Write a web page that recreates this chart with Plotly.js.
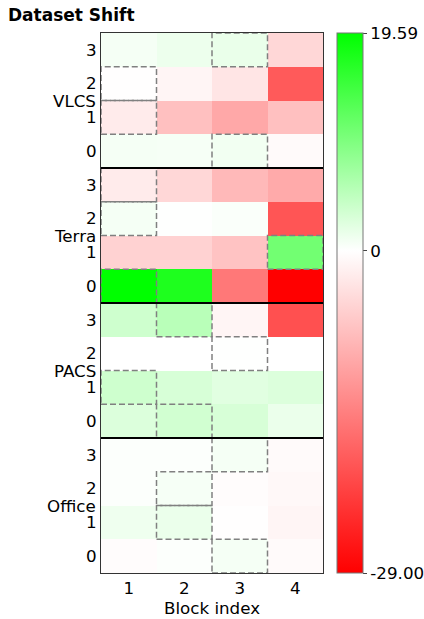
<!DOCTYPE html>
<html>
<head>
<meta charset="utf-8">
<script src="https://cdn.plot.ly/plotly-3.0.1.min.js"></script>
<style>html,body{margin:0;padding:0;background:#fff;}#chart{width:424px;height:619px;}</style>
</head>
<body>
<div id="chart"></div>
<script>
// Datasets, top to bottom
const datasets = ["VLCS", "Terra", "PACS", "Office"];
const blocks = [1, 2, 3, 4];
const subRows = ["0", "1", "2", "3"];
// each dataset: rows = sub-row 0..3, columns = block 1..4
const vlcs = [
  [0.8, 0.7, 1.0, -0.6],
  [-2.3, -7.2, -9.9, -7.2],
  [-0.1, -1.1, -3.0, -18.8],
  [0.8, 1.4, 1.6, -4.6]
];
const terra = [
  [19.59, 17.3, -15.4, -29.0],
  [-5.1, -5.1, -6.8, 10.8],
  [0.8, 0.1, 0.4, -19.3],
  [-2.3, -4.5, -8.0, -9.7]
];
const pacs = [
  [2.7, 3.5, 3.1, 1.5],
  [3.8, 3.1, 2.3, 2.7],
  [0.0, 0.0, 0.1, -0.05],
  [3.8, 5.4, -1.1, -19.9]
];
const office = [
  [-0.3, 0.2, 0.8, -0.6],
  [1.2, 1.5, -0.1, -1.1],
  [0.2, 0.7, -0.3, -0.8],
  [0.2, 0.2, 0.8, -0.6]
];
const zMin = -29.0;
const zMax = 19.59;

// stack bottom (Office 0) to top (VLCS 3)
const groups = [office, pacs, terra, vlcs];
const z = [];
const yVals = [];
const yText = [];
groups.forEach((g, gi) => {
  g.forEach((row, ri) => {
    z.push(row);
    yVals.push(gi * 4 + ri);
    yText.push(subRows[ri]);
  });
});

const zeroPos = (0 - zMin) / (zMax - zMin);
const heat = {
  type: "heatmap",
  x: blocks,
  y: yVals,
  z: z,
  zmin: zMin,
  zmax: zMax,
  colorscale: [[0, "rgb(255,0,0)"], [zeroPos, "rgb(255,255,255)"], [1, "rgb(0,255,0)"]],
  hoverinfo: "skip",
  colorbar: {
    thickness: 26, thicknessmode: "pixels",
    len: 1, lenmode: "fraction",
    x: 1.063, xanchor: "left", xref: "paper",
    y: 0.5, yanchor: "middle",
    xpad: 0, ypad: 0,
    outlinewidth: 1, outlinecolor: "#777",
    tickmode: "array",
    tickvals: [zMin, 0, zMax],
    ticktext: [zMin.toFixed(2), "0", zMax.toFixed(2)],
    ticks: "outside", ticklen: 4, tickcolor: "#444",
    tickfont: {family: "DejaVu Sans", size: 16.7, color: "#000"}
  }
};

const shapes = [];
// dashed boxes at the best block of each row
z.forEach((row, yi) => {
  let bi = 0;
  row.forEach((v, i) => { if (v > row[bi]) bi = i; });
  const xc = blocks[bi];
  shapes.push({
    type: "rect", xref: "x", yref: "y",
    x0: xc - 0.5, x1: xc + 0.5, y0: yVals[yi] - 0.5, y1: yVals[yi] + 0.5,
    line: {color: "#808080", width: 1.5, dash: "6px,3px"}, layer: "above"
  });
});
// group separators
for (let gi = 1; gi < groups.length; gi++) {
  shapes.push({
    type: "line", xref: "x", yref: "y",
    x0: 0.5, x1: 4.5, y0: gi * 4 - 0.5, y1: gi * 4 - 0.5,
    line: {color: "#000", width: 2}, layer: "above"
  });
}

const annotations = [];
groups.forEach((g, gi) => {
  annotations.push({
    text: datasets[groups.length - 1 - gi],
    xref: "paper", yref: "y", x: 0, y: gi * 4 + 1.5,
    xanchor: "right", yanchor: "middle", xshift: -3,
    showarrow: false,
    font: {family: "DejaVu Sans", size: 16.7, color: "#000"}
  });
});

const layout = {
  width: 424, height: 619,
  margin: {l: 101, r: 101, t: 33, b: 46, autoexpand: false},
  paper_bgcolor: "#fff", plot_bgcolor: "#fff",
  title: {
    text: "<b>Dataset Shift</b>",
    x: 8 / 424, xanchor: "left", xref: "container",
    y: 1 - 15 / 619, yanchor: "middle", yref: "container",
    font: {family: "DejaVu Sans", size: 17, color: "#000"}
  },
  xaxis: {
    range: [0.5, 4.5],
    tickmode: "array", tickvals: blocks, ticktext: blocks.map(String),
    ticks: "", showgrid: false, zeroline: false,
    showline: true, mirror: true, linecolor: "#333", linewidth: 1,
    tickfont: {family: "DejaVu Sans", size: 16.7, color: "#000"},
    title: {text: "Block index", standoff: 2, font: {family: "DejaVu Sans", size: 16.7, color: "#000"}},
    automargin: false,
    fixedrange: true
  },
  yaxis: {
    range: [-0.5, 15.5],
    tickmode: "array", tickvals: yVals, ticktext: yText,
    ticks: "", showgrid: false, zeroline: false,
    showline: true, mirror: true, linecolor: "#333", linewidth: 1,
    tickfont: {family: "DejaVu Sans", size: 16.7, color: "#000"},
    automargin: false,
    fixedrange: true
  },
  shapes: shapes,
  annotations: annotations,
  showlegend: false
};

Plotly.newPlot("chart", [heat], layout, {staticPlot: true, displayModeBar: false});
</script>
</body>
</html>
